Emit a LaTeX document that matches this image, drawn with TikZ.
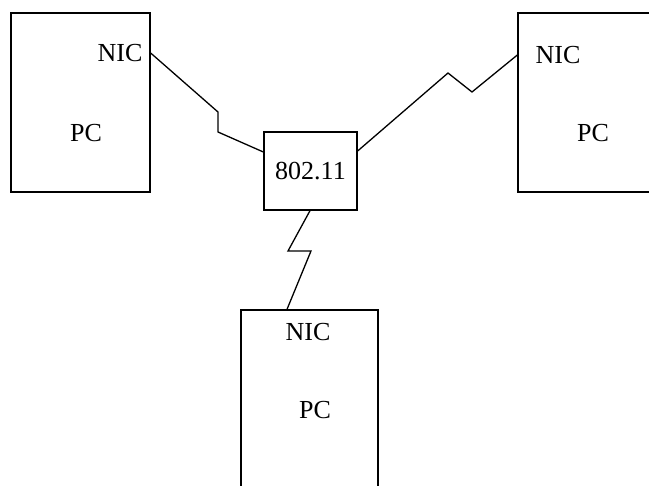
\documentclass[tikz,border=0pt]{standalone}
\usepackage{fontspec}
\setmainfont{Liberation Serif}
\begin{document}
\begin{tikzpicture}[x=1pt,y=-1pt,line width=1.3pt,
  pcbox/.style={draw,rectangle,inner sep=0pt},
  lbl/.style={font=\fontsize{26}{31}\selectfont,inner sep=0pt}]
\useasboundingbox (0,0) rectangle (649,486);
\clip (0,0) rectangle (649,486);
% PCs and the access point
\node[pcbox,minimum width=139pt,minimum height=179pt] (pcleft) at (80.5,102.5) {};
\node[pcbox,minimum width=182pt,minimum height=179pt] (pcright) at (609,102.5) {};
\node[pcbox,minimum width=137pt,minimum height=230pt] (pcbottom) at (309.5,425) {};
\node[pcbox,lbl,minimum width=93pt,minimum height=78pt] (ap) at (310.5,171) {802.11};
% labels
\node[lbl] (nicleft) at (120,53) {NIC};
\node[lbl] (pcleftlbl) at (86,133) {PC};
\node[lbl] (nicright) at (558,55) {NIC};
\node[lbl] (pcrightlbl) at (593,133) {PC};
\node[lbl] (nicbottom) at (308,332) {NIC};
\node[lbl] (pcbottomlbl) at (315,410) {PC};
% radio links
\draw (pcleft.east |- nicleft) -- (218,112) -- (218,132) -- (ap.west |- 0,152);
\draw (ap.east |- 0,151) -- (448,73) -- (472,92) -- (pcright.west |- nicright);
\draw (ap.south -| 310,0) -- (288,251) -- (311,251) -- (pcbottom.north -| 287,0);
\end{tikzpicture}
\end{document}
